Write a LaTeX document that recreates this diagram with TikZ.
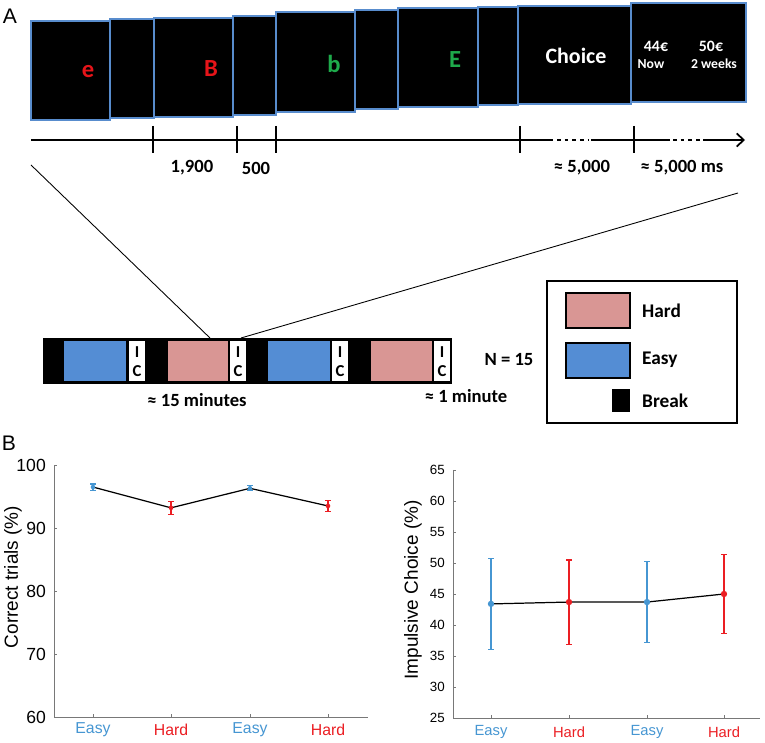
\documentclass[tikz,border=0pt]{standalone}
\usepackage{fontspec}
\setmainfont{Carlito}
\newfontfamily\plotfont{Liberation Sans}
\usetikzlibrary{arrows.meta}

\definecolor{screenblue}{RGB}{88,140,205}
\definecolor{easyblue}{RGB}{84,141,212}
\definecolor{hardpink}{RGB}{217,150,148}
\definecolor{stimred}{RGB}{230,20,25}
\definecolor{stimgreen}{RGB}{30,170,75}
\definecolor{ploteasy}{RGB}{70,150,210}
\definecolor{plothard}{RGB}{235,30,35}
\definecolor{axisgrey}{RGB}{120,120,120}

\tikzset{
  screen/.style={fill=black,draw=screenblue,line width=1.2pt},
  stimulus/.style={font=\fontsize{14}{14}\selectfont\bfseries},
  smalllabel/.style={font=\fontsize{10.6}{10.6}\selectfont\bfseries},
  timeline/.style={line width=1pt},
  dotline/.style={line width=1pt,dash pattern=on 2pt off 2.4pt},
  zoomline/.style={line width=0.5pt},
  icletter/.style={font=\fontsize{9.5}{9.5}\selectfont\bfseries,inner sep=0pt},
  legendtext/.style={font=\fontsize{11}{11}\selectfont\bfseries,anchor=west},
  axis/.style={axisgrey,line width=0.5pt},
  meanline/.style={line width=0.7pt},
  errbar/.style={line width=0.7pt},
  panellabel/.style={font=\plotfont\fontsize{12}{12}\selectfont},
}

\begin{document}
\begin{tikzpicture}[x=0.02cm,y=-0.02cm]
  \useasboundingbox (0,0) rectangle (765,743);
  % panel A: trial screens
  \node[panellabel] (labA) at (10,16) {A};
  \foreach \xa/\xb/\ya/\yb in {31/110/21/120,110/154/19/118,154/233/18/117,233/276/16/115,
      276/355/12/112,355/398/10/109,398/478/8/107,478/518/7/105,518/631/6/104,631/746/3/102}
    \draw[screen] (\xa,\ya) rectangle (\xb,\yb);
  \node[stimulus,text=stimred] (letter1) at (88,72) {e};
  \node[stimulus,text=stimred] (letter2) at (211,69) {B};
  \node[stimulus,text=stimgreen] (letter3) at (334,64) {b};
  \node[stimulus,text=stimgreen] (letter4) at (455,60) {E};
  \node[text=white,font=\fontsize{12.5}{12.5}\selectfont\bfseries] (choice) at (576,56) {Choice};
  \node[text=white,font=\fontsize{9}{9}\selectfont\bfseries] (amountnow) at (656,46) {44€};
  \node[text=white,font=\fontsize{7.8}{7.8}\selectfont\bfseries] (delaynow) at (651,64) {Now};
  \node[text=white,font=\fontsize{9}{9}\selectfont\bfseries] (amountlater) at (711,46) {50€};
  \node[text=white,font=\fontsize{7.8}{7.8}\selectfont\bfseries] (delaylater) at (714,64) {2 weeks};
  % timeline
  \coordinate (tstart) at (31,140);
  \coordinate (tchoice) at (520,140);
  \coordinate (toffer) at (634,140);
  \coordinate (tend) at (745,140);
  \draw[timeline] (tstart) -- (553,140);
  \draw[dotline] (557,140) -- (589,140);
  \draw[timeline] (591,140) -- (toffer) -- (670,140);
  \draw[dotline] (673,140) -- (701,140);
  \draw[timeline,-{Straight Barb[length=4pt,width=7.5pt]}] (703,140) -- (tend);
  \foreach \tx in {153,237,276,520,634}
    \draw[timeline] (\tx,126) -- (\tx,153);
  \node[smalllabel] (dur1) at (192,168) {1,900};
  \node[smalllabel] (dur2) at (256,168) {500};
  \node[smalllabel] (dur3) at (582,168) {≈ 5,000};
  \node[smalllabel] (dur4) at (682,168) {≈ 5,000 ms};
  % block sequence
  \fill (43,338) rectangle (452,384);
  \foreach \xa/\xb/\blockcol in {64/126/easyblue,168/228/hardpink,268/330/easyblue,371/432/hardpink}
    \fill[\blockcol] (\xa,341) rectangle (\xb,381);
  \foreach \xa in {129,230,332,434} {
    \fill[white] (\xa,341) rectangle ++(16,40);
    \node[icletter] at (\xa+8,352) {I};
    \node[icletter] at (\xa+8,371) {C};
  }
  \coordinate (zoomleft) at (31,165);
  \coordinate (zoomright) at (738,193);
  \coordinate (blockleft) at (210,338);
  \coordinate (blockright) at (241,338);
  \draw[zoomline] (zoomleft) -- (blockleft);
  \draw[zoomline] (zoomright) -- (blockright);
  \node[smalllabel] (nsubj) at (509,360) {N = 15};
  \node[smalllabel] (session) at (197,400) {≈ 15 minutes};
  \node[smalllabel] (breaklen) at (466,396) {≈ 1 minute};
  % legend
  \draw[line width=0.8pt] (547,281) rectangle (737,423);
  \draw[fill=hardpink,line width=1.2pt] (566,293) rectangle (630,328);
  \draw[fill=easyblue,line width=1.2pt] (566,343) rectangle (630,378);
  \fill (612,389) rectangle (630,412);
  \node[legendtext] (leghard) at (636,311) {Hard};
  \node[legendtext] (legeasy) at (636,360) {Easy};
  \node[legendtext] (legbreak) at (636,401) {Break};
  % panel B: correct trials
  \node[panellabel] (labB) at (9,443) {B};
  \draw[axis] (54,465) -- (54,717) -- (368,717);
  \foreach \v in {60,70,...,100} {
    \draw[axis] (54,{717-(\v-60)*6.3}) -- ++(3,0);
    \node[anchor=east,font=\plotfont\fontsize{10}{10}\selectfont] at (52,{717-(\v-60)*6.3}) {\v};
  }
  \foreach \cx/\lab/\col in {93/Easy/ploteasy,171/Hard/plothard,250/Easy/ploteasy,328/Hard/plothard} {
    \draw[axis] (\cx,717) -- (\cx,714);
    \node[text=\col,font=\plotfont\fontsize{9}{9}\selectfont] at (\cx,730) {\lab};
  }
  \draw[meanline] (93,{717-36.5*6.3}) -- (171,{717-33.2*6.3}) -- (250,{717-36.3*6.3}) -- (328,{717-33.5*6.3});
  \foreach \cx/\m/\e/\col in {93/96.5/0.5/ploteasy,171/93.2/1.0/plothard,250/96.3/0.4/ploteasy,328/93.5/0.9/plothard} {
    \draw[errbar,\col] (\cx-3,{717-(\m+\e-60)*6.3}) -- (\cx+3,{717-(\m+\e-60)*6.3})
      (\cx,{717-(\m+\e-60)*6.3}) -- (\cx,{717-(\m-\e-60)*6.3})
      (\cx-3,{717-(\m-\e-60)*6.3}) -- (\cx+3,{717-(\m-\e-60)*6.3});
    \fill[\col] (\cx,{717-(\m-60)*6.3}) circle (2.3);
  }
  \node[rotate=90,font=\plotfont\fontsize{10.8}{10.8}\selectfont] (ylabcorrect) at (13,577) {Correct trials (\%)};
  % panel B: impulsive choice
  \draw[axis] (453,470) -- (453,718) -- (760,718);
  \foreach \v in {25,30,...,65} {
    \draw[axis] (453,{718-(\v-25)*6.2}) -- ++(3,0);
    \node[anchor=east,font=\plotfont\fontsize{7.6}{7.6}\selectfont] at (451,{718-(\v-25)*6.2}) {\v};
  }
  \foreach \cx/\lab/\col in {491/Easy/ploteasy,569/Hard/plothard,647/Easy/ploteasy,724/Hard/plothard} {
    \draw[axis] (\cx,718) -- (\cx,715);
    \node[text=\col,font=\plotfont\fontsize{8.4}{8.4}\selectfont] at (\cx,732) {\lab};
  }
  \draw[meanline] (491,{718-18.4*6.2}) -- (569,{718-18.7*6.2}) -- (647,{718-18.7*6.2}) -- (724,{718-20*6.2});
  \foreach \cx/\m/\e/\col in {491/43.4/7.3/ploteasy,569/43.7/6.8/plothard,647/43.7/6.5/ploteasy,724/45.0/6.35/plothard} {
    \draw[errbar,\col] (\cx-3,{718-(\m+\e-25)*6.2}) -- (\cx+3,{718-(\m+\e-25)*6.2})
      (\cx,{718-(\m+\e-25)*6.2}) -- (\cx,{718-(\m-\e-25)*6.2})
      (\cx-3,{718-(\m-\e-25)*6.2}) -- (\cx+3,{718-(\m-\e-25)*6.2});
    \fill[\col] (\cx,{718-(\m-25)*6.2}) circle (3.2);
  }
  \node[rotate=90,font=\plotfont\fontsize{10.8}{10.8}\selectfont] (ylabimpulsive) at (413,590) {Impulsive Choice (\%)};
\end{tikzpicture}
\end{document}
